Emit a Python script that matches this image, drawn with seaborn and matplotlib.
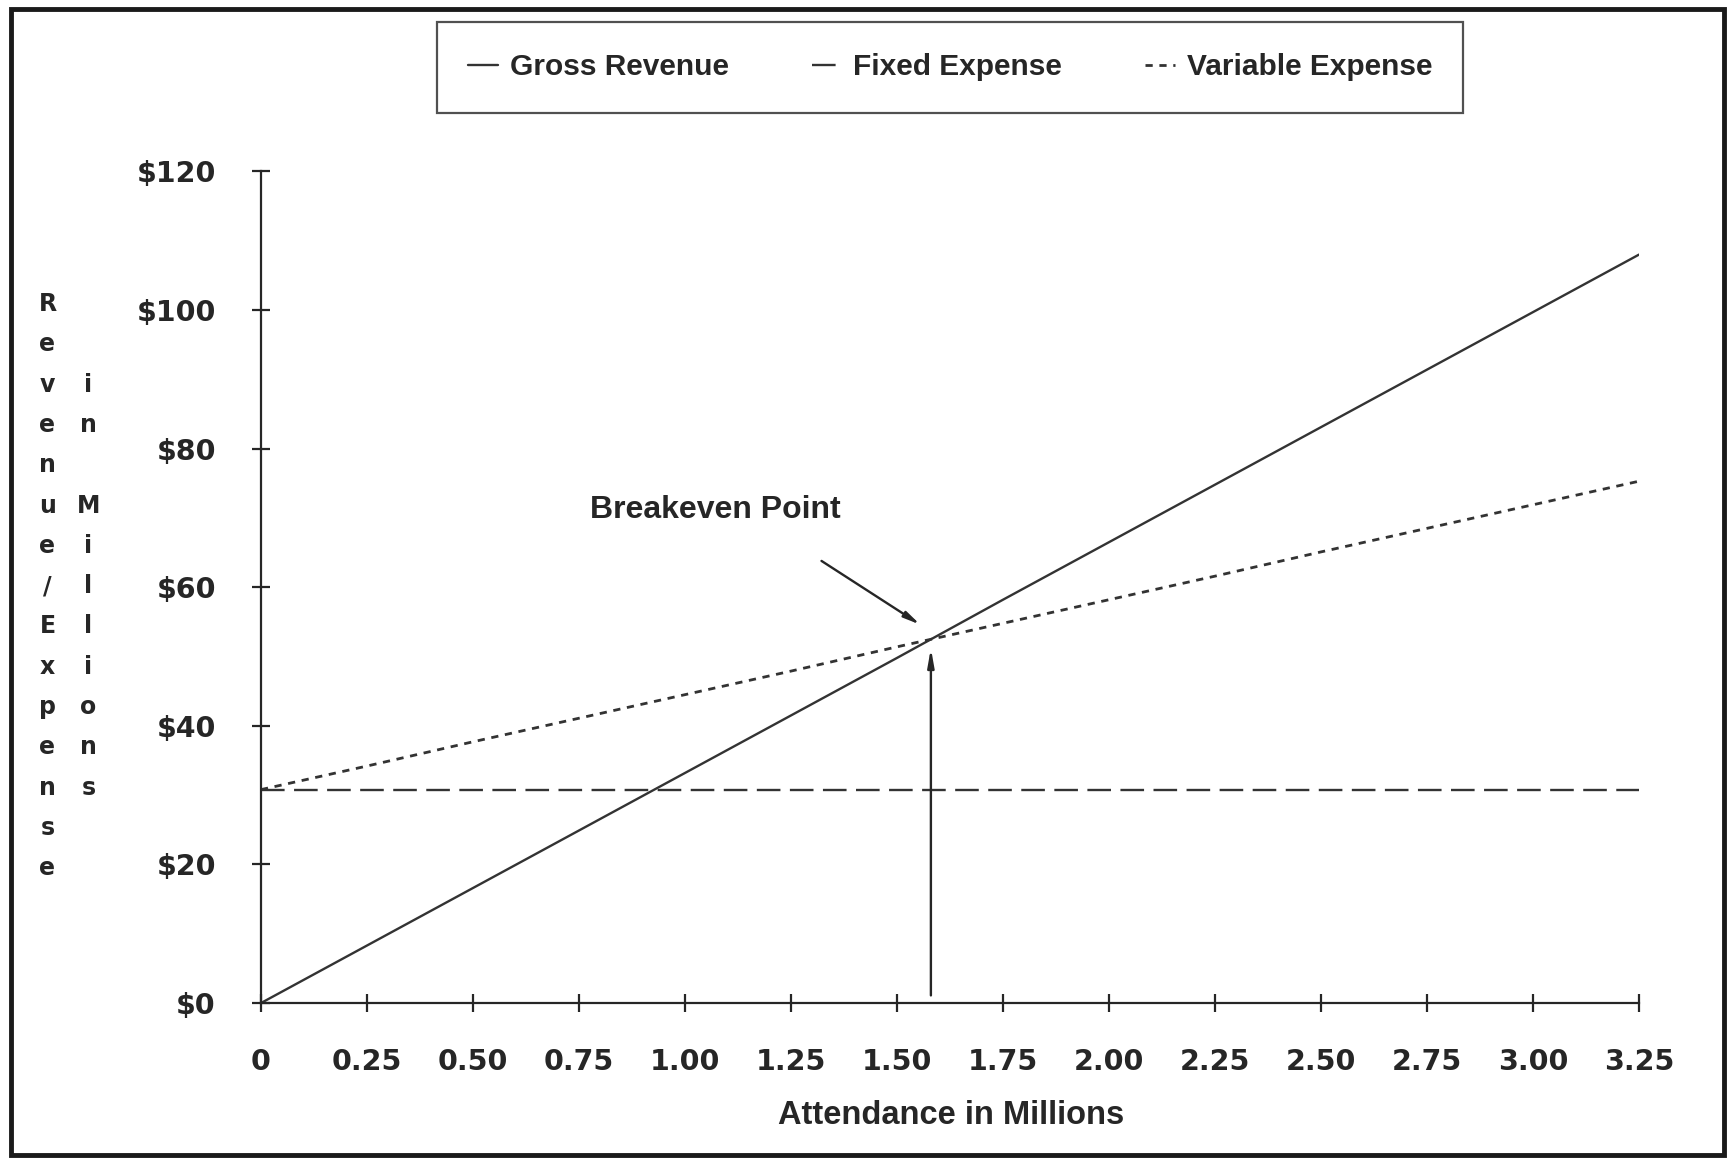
import matplotlib
matplotlib.use("Agg")
import matplotlib.pyplot as plt
from matplotlib.patches import Rectangle
import seaborn as sns
import pandas as pd

# Attendance (millions) and dollar amounts (millions)
attendance = [0.0, 0.25, 0.50, 0.75, 1.00, 1.25, 1.50, 1.75, 2.00, 2.25, 2.50, 2.75, 3.00, 3.25]
gross_revenue = [0.0, 8.3, 16.6, 24.9, 33.2, 41.5, 49.8, 58.2, 66.5, 74.8, 83.1, 91.4, 99.7, 108.0]
fixed_expense = [30.8] * 14
variable_expense = [30.8, 34.2, 37.7, 41.1, 44.5, 47.9, 51.4, 54.8, 58.2, 61.6, 65.1, 68.5, 71.9, 75.3]

breakeven_x = 1.58
breakeven_y = 52.5

x_tick_labels = ["0", "0.25", "0.50", "0.75", "1.00", "1.25", "1.50", "1.75",
                 "2.00", "2.25", "2.50", "2.75", "3.00", "3.25"]
y_ticks = [0, 20, 40, 60, 80, 100, 120]
y_tick_labels = ["$0", "$20", "$40", "$60", "$80", "$100", "$120"]

df = pd.DataFrame({
    "attendance": attendance,
    "Gross Revenue": gross_revenue,
    "Fixed Expense": fixed_expense,
    "Variable Expense": variable_expense,
})

sns.set_theme(style="white")
plt.rcParams["font.family"] = ["DejaVu Sans"]

ink = "#262626"
line_col = "#333333"
narrow = ["Liberation Sans", "DejaVu Sans"]

fig = plt.figure(figsize=(17.34, 11.60), dpi=100)
ax = fig.add_axes([0.1505, 0.1353, 0.7947, 0.7169])

sns.lineplot(data=df, x="attendance", y="Gross Revenue", ax=ax, color=line_col,
             lw=1.7, label="Gross Revenue")
sns.lineplot(data=df, x="attendance", y="Fixed Expense", ax=ax, color=line_col,
             lw=1.7, linestyle=(0, (10, 4)), label="Fixed Expense")
sns.lineplot(data=df, x="attendance", y="Variable Expense", ax=ax, color=line_col,
             lw=2.0, linestyle=(0, (2.6, 2.4)), label="Variable Expense")

ax.set_xlim(0, 3.25)
ax.set_ylim(0, 120)
ax.set_xticks(attendance)
ax.set_xticklabels(x_tick_labels)
ax.set_yticks(y_ticks)
ax.set_yticklabels(y_tick_labels)
ax.set_xlabel("")
ax.set_ylabel("")
for side in ("top", "right"):
    ax.spines[side].set_visible(False)
for side in ("left", "bottom"):
    ax.spines[side].set_color(ink)
    ax.spines[side].set_linewidth(1.6)
ax.tick_params(axis="both", which="major", bottom=True, left=True,
               direction="inout", length=13, width=1.6, color=ink,
               labelcolor=ink)
ax.tick_params(axis="x", pad=26)
ax.tick_params(axis="y", pad=26)
for lab in ax.get_xticklabels() + ax.get_yticklabels():
    lab.set_fontsize(20.5)
    lab.set_fontweight("bold")
ax.patch.set_alpha(0)

# Legend across the top
ax.get_legend().remove()
handles, labels = ax.get_legend_handles_labels()
leg = fig.legend(handles, labels, loc="lower left",
                 bbox_to_anchor=(0.252, 0.903, 0.592, 0.076), mode="expand",
                 borderaxespad=0, ncol=3, frameon=True, fancybox=False,
                 handlelength=1.0, handletextpad=0.4, borderpad=1.05,
                 prop={"family": narrow, "weight": "bold", "size": 21.5})
leg.get_frame().set_edgecolor(ink)
leg.get_frame().set_linewidth(1.6)
for t in leg.get_texts():
    t.set_color(ink)

# Breakeven annotation
ax.text(0.775, 71.2, "Breakeven Point", fontsize=23, fontweight="bold",
        family=narrow, color=ink, va="center", ha="left")
ax.annotate("", xy=(breakeven_x - 0.025, breakeven_y + 2.1), xytext=(1.322, 63.8),
            arrowprops=dict(arrowstyle="-|>,head_length=0.8,head_width=0.16",
                            color=ink, lw=1.7, shrinkA=0, shrinkB=0))
ax.annotate("", xy=(breakeven_x, breakeven_y - 1.3), xytext=(breakeven_x, 1.1),
            arrowprops=dict(arrowstyle="-|>,head_length=0.9,head_width=0.16",
                            color=ink, lw=1.7, shrinkA=0, shrinkB=0))

# Axis titles
fig.text(0.5485, 1 - 1116 / 1160, "Attendance in Millions", fontsize=23.5,
         fontweight="bold", family=narrow, color=ink, ha="center", va="center")

left_col = "Revenue/Expense"
right_col = "  in Millions"
row0 = 304
row_step = 40.3
for i, ch in enumerate(left_col):
    fig.text(47.5 / 1734, 1 - (row0 + i * row_step) / 1160, ch, fontsize=17,
             fontweight="bold", color=ink, ha="center", va="center")
for i, ch in enumerate(right_col):
    if ch.strip():
        fig.text(88.5 / 1734, 1 - (row0 + i * row_step) / 1160, ch, fontsize=17,
                 fontweight="bold", color=ink, ha="center", va="center")

# Outer frame
fig.patches.append(Rectangle((0.0065, 0.004), 0.988, 0.988, transform=fig.transFigure,
                             fill=False, edgecolor="#1a1a1a", lw=3.5))

fig.savefig("out.png", dpi=100, facecolor="white")
